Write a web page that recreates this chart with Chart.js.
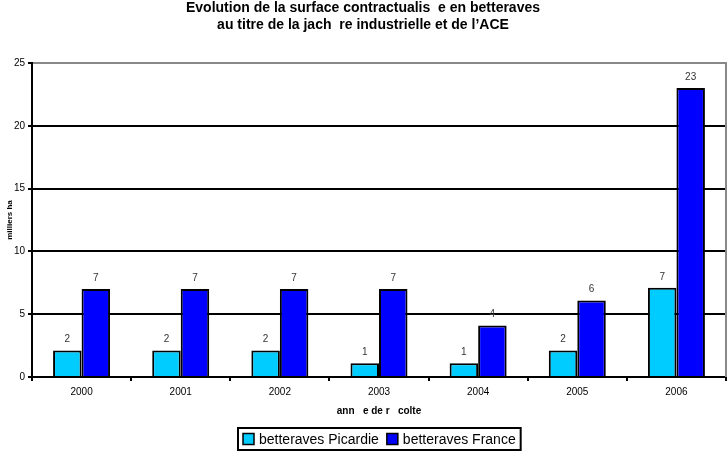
<!DOCTYPE html>
<html>
<head>
<meta charset="utf-8">
<script src="https://cdn.jsdelivr.net/npm/chart.js@4.4.0/dist/chart.umd.min.js"></script>
<style>
  html, body { margin: 0; padding: 0; background: #fff; }
  #wrap { width: 727px; height: 452px; }
</style>
</head>
<body>
<div id="wrap"><canvas id="betteravesChart"></canvas></div>
<script>
const years = ["2000", "2001", "2002", "2003", "2004", "2005", "2006"];
const picardie = [2.1, 2.1, 2.1, 1.1, 1.1, 2.1, 7.1];
const france = [7, 7, 7, 7, 4.1, 6.1, 23];
const yTicks = [0, 5, 10, 15, 20, 25];
const titleLines = ["Evolution de la surface contractualis  e en betteraves", "au titre de la jach  re industrielle et de l’ACE"];

const FONT = "'Liberation Sans', Arial, sans-serif";

// value labels above each bar
const barLabels = {
    id: "barLabels",
    afterDatasetsDraw(chart) {
        const ctx = chart.ctx;
        ctx.save();
        ctx.font = "10px " + FONT;
        ctx.fillStyle = "#333";
        ctx.textAlign = "center";
        ctx.textBaseline = "bottom";
        chart.data.datasets.forEach((ds, i) => {
            chart.getDatasetMeta(i).data.forEach((bar, j) => {
                ctx.fillText(Math.round(ds.data[j]), bar.x, bar.y - 6);
            });
        });
        ctx.restore();
    }
};

// grey right border + boxed legend at the bottom
const frameAndLegend = {
    id: "frameAndLegend",
    afterDraw(chart) {
        const ctx = chart.ctx;
        const area = chart.chartArea;
        ctx.save();
        ctx.strokeStyle = "#888";
        ctx.lineWidth = 2;
        ctx.beginPath();
        ctx.moveTo(area.right, area.top - 1);
        ctx.lineTo(area.right, area.bottom);
        ctx.stroke();

        ctx.font = "14px " + FONT;
        ctx.textBaseline = "middle";
        const box = 11, gap = 5, between = 8, pad = 5;
        const items = chart.data.datasets.map(ds => ({
            label: ds.label, color: ds.backgroundColor, w: ctx.measureText(ds.label).width
        }));
        let total = pad * 2;
        items.forEach((it, i) => { total += box + gap + it.w + (i ? between : 0); });
        const left = Math.round((area.left + area.right - total) / 2);
        const top = 428, h = 22, cy = top + h / 2;
        ctx.strokeStyle = "#000";
        ctx.lineWidth = 2;
        ctx.strokeRect(left, top, total, h);
        let x = left + pad;
        items.forEach((it, i) => {
            if (i) x += between;
            ctx.fillStyle = it.color;
            ctx.fillRect(x, cy - box / 2, box, box);
            ctx.lineWidth = 1.5;
            ctx.strokeRect(x, cy - box / 2, box, box);
            x += box + gap;
            ctx.fillStyle = "#000";
            ctx.fillText(it.label, x, cy + 1);
            x += it.w;
        });
        ctx.restore();
    }
};

new Chart(document.getElementById("betteravesChart"), {
    type: "bar",
    data: {
        labels: years,
        datasets: [
            {
                label: "betteraves Picardie",
                data: picardie,
                backgroundColor: "#00CCFF",
                borderColor: "#000",
                borderWidth: 2,
                barPercentage: 1,
                categoryPercentage: 0.575
            },
            {
                label: "betteraves France",
                data: france,
                backgroundColor: "#0000FF",
                borderColor: "#000",
                borderWidth: 2,
                barPercentage: 1,
                categoryPercentage: 0.575
            }
        ]
    },
    options: {
        responsive: true,
        maintainAspectRatio: false,
        animation: false,
        layout: { padding: { top: 0, right: 1, bottom: 0, left: 0 } },
        plugins: {
            legend: { display: false },
            tooltip: { enabled: false },
            title: {
                display: true,
                text: titleLines,
                color: "#000",
                font: { family: FONT, size: 14, weight: "bold", lineHeight: 17 / 14 },
                padding: { top: 0, bottom: 29 }
            }
        },
        scales: {
            x: {
                offset: true,
                grid: {
                    offset: true,
                    drawOnChartArea: false,
                    drawTicks: true,
                    tickLength: 4,
                    color: "#000",
                    lineWidth: 2
                },
                border: { color: "#000", width: 2 },
                ticks: { color: "#000", font: { family: FONT, size: 10 }, padding: 5, maxRotation: 0 },
                title: {
                    display: true,
                    text: "ann   e de r   colte",
                    color: "#000",
                    font: { family: FONT, size: 10, weight: "bold" },
                    padding: { top: 0, bottom: 35 }
                },
                afterFit(scale) { scale.height = 75; }
            },
            y: {
                min: 0,
                max: 25,
                afterBuildTicks(scale) { scale.ticks = yTicks.map(v => ({ value: v })); },
                grid: {
                    color: ctx => (ctx.tick && ctx.tick.value === 25 ? "#888" : "#000"),
                    lineWidth: 2,
                    tickLength: 4,
                    tickColor: "#000"
                },
                border: { color: "#000", width: 2 },
                ticks: { color: "#000", font: { family: FONT, size: 10 }, padding: 3 },
                title: {
                    display: true,
                    text: "milliers ha",
                    color: "#000",
                    font: { family: FONT, size: 8, weight: "bold" },
                    padding: { top: 5, bottom: 0 }
                },
                afterFit(scale) { scale.width = 32; }
            }
        }
    },
    plugins: [barLabels, frameAndLegend]
});
</script>
</body>
</html>
